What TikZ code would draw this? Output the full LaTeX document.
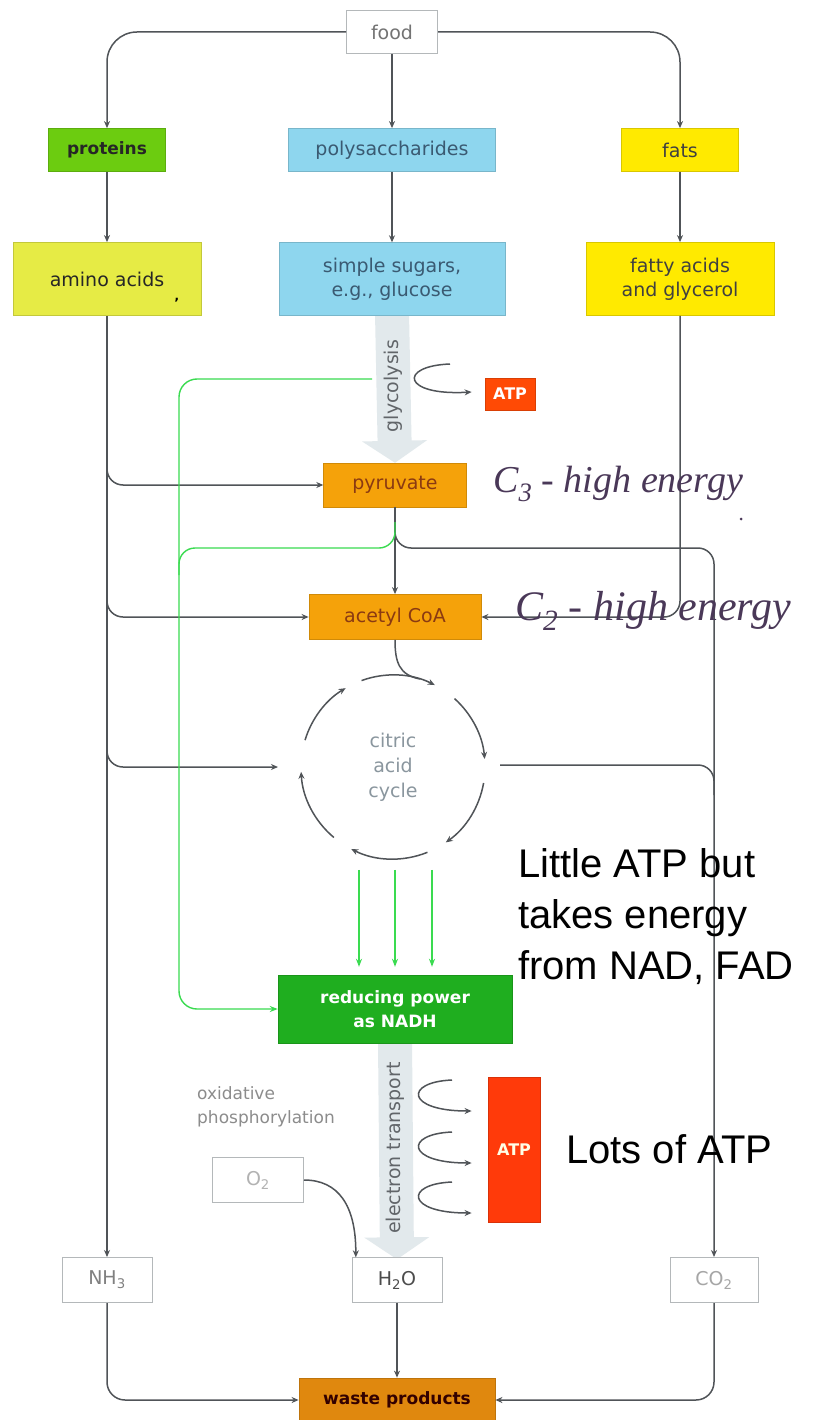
\documentclass[tikz,border=0pt]{standalone}
\usepackage{fontspec}
\setmainfont{DejaVu Sans}
\newfontfamily\arialf{Liberation Sans}
\newfontfamily\handf{Liberation Serif}
\usetikzlibrary{arrows.meta,calc}
\definecolor{linec}{HTML}{505458}
\definecolor{boxgray}{HTML}{B4B8BA}
\definecolor{protc}{HTML}{6CCC10}
\definecolor{bluec}{HTML}{8ED6EE}
\definecolor{bluetxt}{HTML}{3A5A72}
\definecolor{yelc}{HTML}{FFEA00}
\definecolor{aminoc}{HTML}{E6EB45}
\definecolor{orc}{HTML}{F5A20A}
\definecolor{ortxt}{HTML}{8A3A12}
\definecolor{wastec}{HTML}{E0880E}
\definecolor{nadhc}{HTML}{1FAE1F}
\definecolor{atpc}{HTML}{FF4A05}
\definecolor{atpcb}{HTML}{FF3A0A}
\definecolor{glc}{HTML}{3ADB50}
\definecolor{bandc}{HTML}{E2E9EC}
\definecolor{handc}{HTML}{4A3858}
\definecolor{cyctxt}{HTML}{8A969E}
\tikzset{
  bx/.style={rectangle, inner sep=0pt, align=center, font=\fontsize{19}{24}\selectfont},
  wbox/.style={bx, draw=boxgray, fill=white, line width=1pt},
  fbox/.style={bx, fill=#1, draw=#1!85!black, line width=0.8pt},
  tip/.style={-{Stealth[length=7pt,width=6pt]}},
  plain/.style={draw=linec, line width=1.5pt},
  conn/.style={plain, tip},
  gline/.style={draw=glc, line width=1.4pt},
  gconn/.style={gline, -{Stealth[length=8pt,width=6pt]}},
  band/.style={draw=bandc, line width=34pt, -{Triangle[width=64pt,length=22pt]}},
  bandtxt/.style={rotate=90, font=\fontsize{19}{22}\selectfont, text=linec!90},
  big/.style={font=\arialf\fontsize{40}{51}\selectfont, inner sep=0pt, align=left},
  hand/.style={font=\handf\itshape\fontsize{#1}{#1}\selectfont, text=handc, inner sep=0pt}
}
\begin{document}
\begin{tikzpicture}[x=1pt,y=-1pt]
\useasboundingbox (0,0) rectangle (835,1420);
\fill[white] (0,0) rectangle (835,1420);

% bands (drawn first)
\node[bx, minimum width=226pt, minimum height=73pt] (sugar) at (392,279) {};
\node[bx, minimum width=143pt, minimum height=44pt] (pyr) at (395,485) {};
\node[bx, minimum width=234pt, minimum height=68pt] (nadh) at (395,1009) {};
\node[bx, minimum width=90pt, minimum height=45pt] (h2o) at (397,1280) {};
\draw[band] ([yshift=3pt]sugar.south) -- (pyr.north);
\draw[band] ([yshift=2pt]nadh.south) -- ([yshift=-2pt]h2o.north);
\node[bandtxt] (glyt) at (393,386) {glycolysis};
\node[bandtxt] (ett) at (395,1148) {electron transport};

% boxes
\node[wbox, minimum width=91pt, minimum height=43pt, text=black!55] (food) at (392,32) {food};
\node[fbox=protc, minimum width=117pt, minimum height=43pt, font=\bfseries\fontsize{17}{20}\selectfont, text=black!85] (prot) at (107,150) {proteins};
\node[fbox=bluec, minimum width=207pt, minimum height=43pt, text=bluetxt] (poly) at (392,150) {polysaccharides};
\node[fbox=yelc, minimum width=117pt, minimum height=43pt, text=black!75] (fats) at (680,150) {fats};
\node[fbox=aminoc, minimum width=188pt, minimum height=73pt, text=black!85] (amino) at (107,279) {amino acids};
\node[fbox=bluec, minimum width=226pt, minimum height=73pt, text=bluetxt] at (392,279) {simple sugars,\\e.g., glucose};
\node[fbox=yelc, minimum width=188pt, minimum height=73pt, text=black!75] (fatty) at (680,279) {fatty acids\\and glycerol};
\node[fbox=orc, minimum width=143pt, minimum height=44pt, text=ortxt] at (395,485) {pyruvate};
\node[fbox=orc, minimum width=172pt, minimum height=45pt, text=ortxt] (acoa) at (395,617) {acetyl CoA};
\node[bx, minimum size=150pt, text=cyctxt, font=\fontsize{19}{25}\selectfont] (cyc) at (393,767) {citric\\acid\\cycle};
\node[fbox=nadhc, minimum width=234pt, minimum height=68pt, text=white, font=\bfseries\fontsize{17}{24}\selectfont] at (395,1009) {reducing power\\as NADH};
\node[fbox=atpc, minimum width=50pt, minimum height=32pt, text=white, font=\bfseries\fontsize{16}{20}\selectfont] (atp1) at (510,394) {ATP};
\node[fbox=atpcb, minimum width=52pt, minimum height=145pt, text=white!90!yellow, font=\bfseries\fontsize{16}{20}\selectfont] (atp2) at (514,1150) {ATP};
\node[wbox, minimum width=91pt, minimum height=45pt, text=black!30] (o2) at (258,1180) {O\textsubscript{2}};
\node[wbox, minimum width=90pt, minimum height=45pt, text=black!50] (nh3) at (107,1280) {NH\textsubscript{3}};
\node[wbox, minimum width=90pt, minimum height=45pt, text=black!70] at (397,1280) {H\textsubscript{2}O};
\node[wbox, minimum width=88pt, minimum height=45pt, text=black!35] (co2) at (714,1280) {CO\textsubscript{2}};
\node[fbox=wastec, minimum width=196pt, minimum height=44pt, text=black!80!red, font=\bfseries\fontsize{17}{20}\selectfont] (waste) at (397,1400) {waste products};
\node[bx, align=left, anchor=north west, text=black!45, font=\fontsize{17}{24}\selectfont] (oxph) at (197,1086) {oxidative\\phosphorylation};
\node[bx, font=\bfseries\fontsize{12}{12}\selectfont] (comma) at (177,300) {,};

% food branches
\draw[conn, rounded corners=30pt] (food.west) -| (prot.north);
\draw[conn, rounded corners=30pt] (food.east) -| (fats.north);
\draw[conn] (food.south) -- (poly.north);
\draw[conn] (prot.south) -- (amino.north);
\draw[conn] (poly.south) -- (sugar.north);
\draw[conn] (fats.south) -- (fatty.north);

% left trunk
\draw[conn] (amino.south) -- (nh3.north);
\coordinate (L1) at (107,458);
\coordinate (L2) at (107,590);
\coordinate (L3) at (107,740);
\coordinate (cycin) at (278,767);
\coordinate (cycout) at (500,765);
\draw[conn, rounded corners=16pt] (L1) |- (pyr.west);
\draw[conn, rounded corners=16pt] (L2) |- (acoa.west);
\draw[conn, rounded corners=16pt] (L3) |- (cycin);

% pyruvate down
\draw[conn] (pyr.south) -- (acoa.north);
\coordinate (P1) at (395,522);
\draw[conn, rounded corners=16pt] (P1) |- (714,548) -- (co2.north);
\draw[gline, rounded corners=16pt] (P1) |- (179,548) -- (179,575);
\draw[plain, rounded corners=16pt] (cycout) -- (714,765) -- (714,795);

% fatty acids to acetyl CoA
\draw[conn, rounded corners=16pt] (fatty.south) |- (acoa.east);

% green main line
\coordinate (G0) at (372,379);
\draw[gconn, rounded corners=18pt] (G0) -- (179,379) -- (179,1009) -- (nadh.west);

% acetyl CoA into cycle
\draw[plain] (acoa.south) .. controls (395,662) and (399,675) .. (420,679);

% cycle arcs
\foreach \a/\b in {250/297, 312/355, 10/55, 68/117, 130/177, 197/239}{
  \draw[conn] ([shift={(\a:92)}]cyc.center) arc[start angle=\a, end angle=\b, radius=92];
}

% three green arrows
\foreach \dx in {-36,0,37}{
  \draw[gconn] ($(nadh.north)+(\dx,-105)$) -- ($(nadh.north)+(\dx,-8)$);
}

% ATP curves
\draw[conn] (450,364) .. controls (398,366) and (402,396) .. ([xshift=-13pt,yshift=2pt]atp1.west);
\foreach \y in {1080,1132,1182}{
  \draw[conn] (452,\y) .. controls (404,\y+2) and (406,\y+31) .. ($(atp2.west |- 0,\y)+(-16,31)$);
}

% oxygen to water
\draw[conn] (o2.east) .. controls (338,1180) and (356,1205) .. ([xshift=4pt]h2o.north west);

% to waste
\draw[conn] (h2o.south) -- (waste.north);
\draw[conn, rounded corners=18pt] (nh3.south) |- (waste.west);
\draw[conn, rounded corners=18pt] (co2.south) |- (waste.east);

% annotations
\node[hand=38, anchor=base west] (c3) at (493,492) {C\textsubscript{3} - high energy};
\node[hand=42, anchor=base west] (c2) at (515,620) {C\textsubscript{2} - high energy};
\fill[handc] (741,519) circle (1.5);
\node[big, anchor=north west] (little) at (518,848) {Little ATP but\\takes energy\\from NAD, FAD};
\node[big, anchor=base west] (lots) at (566,1163) {Lots of ATP};
\end{tikzpicture}
\end{document}
